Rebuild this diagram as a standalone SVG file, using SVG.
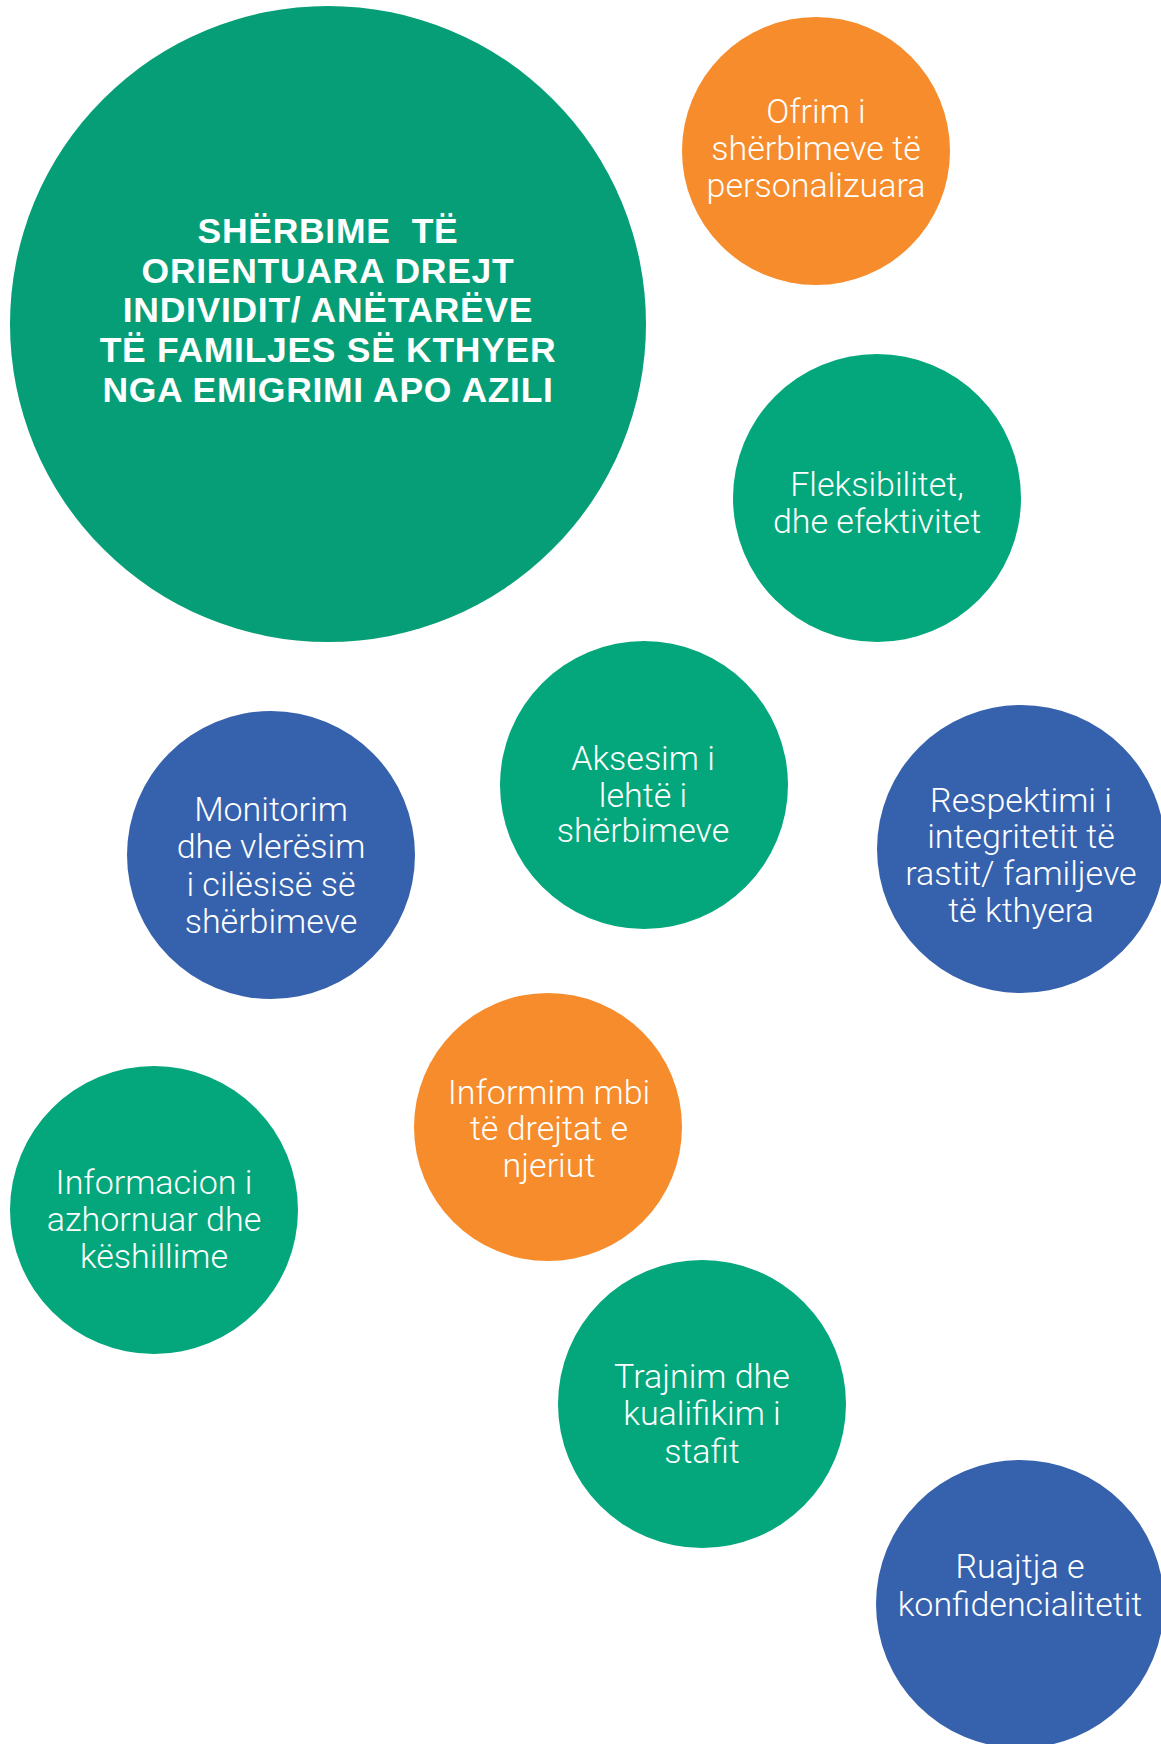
<svg xmlns="http://www.w3.org/2000/svg" width="1161" height="1744" viewBox="0 0 1161 1744">
<style>
.g{fill:#03A77B}
.gm{fill:#069E76}
.o{fill:#F68C2B}
.b{fill:#3661AD}
.t{font-family:Roboto,"Open Sans","Liberation Sans",sans-serif;font-weight:300;font-size:34px;fill:#FFFFFF;text-anchor:middle}
.h{font-family:"Liberation Sans",Arial,sans-serif;font-weight:700;font-size:35.5px;fill:#FFFFFF;text-anchor:middle;letter-spacing:0.7px;white-space:pre}
</style>
<rect width="1161" height="1744" fill="#FFFFFF"/>
<g id="connectors"/>
<g id="main">
<circle class="gm" cx="328" cy="324" r="318"/>
<text class="h"><tspan x="328" y="243">SHËRBIME  TË</tspan><tspan x="328" y="283">ORIENTUARA DREJT</tspan><tspan x="328" y="322">INDIVIDIT/ ANËTARËVE</tspan><tspan x="328" y="362">TË FAMILJES SË KTHYER</tspan><tspan x="328" y="402">NGA EMIGRIMI APO AZILI</tspan></text>
</g>
<g id="ofrim">
<circle class="o" cx="816" cy="151" r="134"/>
<text class="t"><tspan x="816" y="123">Ofrim i</tspan><tspan x="816" y="160">shërbimeve të</tspan><tspan x="816" y="197">personalizuara</tspan></text>
</g>
<g id="fleksibilitet">
<circle class="g" cx="877" cy="498" r="144"/>
<text class="t"><tspan x="877" y="496">Fleksibilitet,</tspan><tspan x="877" y="533">dhe efektivitet</tspan></text>
</g>
<g id="aksesim">
<circle class="g" cx="644" cy="785" r="144"/>
<text class="t"><tspan x="643" y="770">Aksesim i</tspan><tspan x="643" y="806.5">lehtë i</tspan><tspan x="643" y="842">shërbimeve</tspan></text>
</g>
<g id="monitorim">
<circle class="b" cx="271" cy="855" r="144"/>
<text class="t"><tspan x="271" y="821">Monitorim</tspan><tspan x="271" y="858">dhe vlerësim</tspan><tspan x="271" y="895.5">i cilësisë së</tspan><tspan x="271" y="932.5">shërbimeve</tspan></text>
</g>
<g id="respektimi">
<circle class="b" cx="1021" cy="849" r="144"/>
<text class="t"><tspan x="1021" y="811.5">Respektimi i</tspan><tspan x="1021" y="847.5">integritetit të</tspan><tspan x="1021" y="884.5">rastit/ familjeve</tspan><tspan x="1021" y="922">të kthyera</tspan></text>
</g>
<g id="informim">
<circle class="o" cx="548" cy="1127" r="134"/>
<text class="t"><tspan x="549" y="1103.5">Informim mbi</tspan><tspan x="549" y="1140">të drejtat e</tspan><tspan x="549" y="1177">njeriut</tspan></text>
</g>
<g id="informacion">
<circle class="g" cx="154" cy="1210" r="144"/>
<text class="t"><tspan x="154" y="1193.5">Informacion i</tspan><tspan x="154" y="1230.5">azhornuar dhe</tspan><tspan x="154" y="1268">këshillime</tspan></text>
</g>
<g id="trajnim">
<circle class="g" cx="702" cy="1404" r="144"/>
<text class="t"><tspan x="702" y="1387.5">Trajnim dhe</tspan><tspan x="702" y="1425">kualifikim i</tspan><tspan x="702" y="1462.5">stafit</tspan></text>
</g>
<g id="ruajtja">
<circle class="b" cx="1020" cy="1604" r="144"/>
<text class="t"><tspan x="1020" y="1577.5">Ruajtja e</tspan><tspan x="1020" y="1615.5">konfidencialitetit</tspan></text>
</g>
</svg>
